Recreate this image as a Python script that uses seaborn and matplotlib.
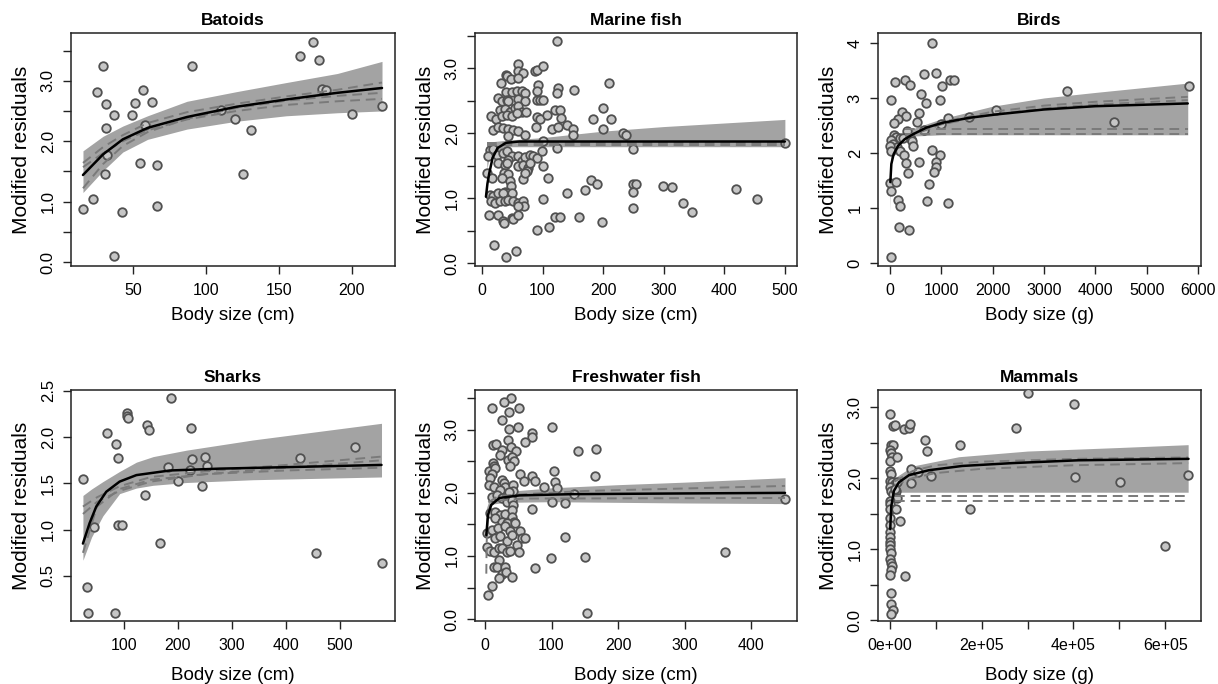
import numpy as np
import pandas as pd
import matplotlib
matplotlib.use("Agg")
import matplotlib.pyplot as plt
import seaborn as sns

# ---- Batoids ----
batoid_x = [15.7, 22.5, 29.4, 25.5, 31.5, 31.5, 36.7, 32.2, 30.8, 36.7, 42.7, 49.1, 51.1, 57.1, 58.0, 55.0,
            63.3, 66.5, 66.7, 90.1, 110.5, 119.8, 125.5, 131.1, 164.5, 173.2, 177.1, 179.6, 182.4, 200, 220.8]
batoid_y = [0.87, 1.04, 3.24, 2.81, 2.61, 2.21, 2.44, 1.77, 1.45, 0.10, 0.83, 2.44, 2.63, 2.84, 2.26, 1.64,
            2.65, 1.61, 0.93, 3.24, 2.51, 2.37, 1.45, 2.18, 3.41, 3.64, 3.35, 2.86, 2.84, 2.45, 2.59]
batoid_band_x = [15.7, 29.4, 43, 60, 87, 121, 155, 190, 220.6]
batoid_band_hi = [1.84, 2.08, 2.25, 2.42, 2.66, 2.82, 2.97, 3.12, 3.32]
batoid_band_lo = [1.15, 1.51, 1.82, 2.03, 2.20, 2.33, 2.42, 2.47, 2.50]
batoid_fit = [1.44, 1.78, 2.03, 2.22, 2.40, 2.57, 2.69, 2.80, 2.88]
batoid_dash1 = [1.64, 1.90, 2.10, 2.30, 2.48, 2.62, 2.74, 2.85, 2.97]
batoid_dash2 = [1.57, 1.80, 2.00, 2.18, 2.36, 2.50, 2.60, 2.66, 2.70]
batoid_dash3 = [1.22, 1.62, 1.92, 2.15, 2.37, 2.55, 2.67, 2.75, 2.80]

# ---- Marine fish ----
marine_x = [124.2, 59.9, 39, 41.8, 58.8, 68.1, 87.4, 90.1, 101, 30.8, 47.3, 59.9, 39.6, 48.9, 57.1, 65.4, 70.9,
            92.9, 90.1, 125.8, 123.1, 152.2, 209.9, 25.8, 32.4, 40.7, 43.4, 59.9, 70.9, 90.1, 95.6, 101,
            29.7, 38, 46.2, 54.4, 59.9, 65.4, 72.5, 14.8, 23.1, 32.4, 40.7, 48.9, 57.1,
            90.1, 95.6, 107.7, 120.3, 128.6, 130.2, 89, 183.5, 200, 213.7,
            18.7, 26.9, 35.2, 43.4, 51.6, 59.9, 114.8, 125.8, 139.6, 150.5, 149.5, 200, 233, 238.5,
            43.4, 70.9, 101, 123.1, 249.5, 13.2, 18.7, 10.4, 24.2, 35.2, 40.7, 48.9, 43.4, 26.9,
            59.9, 65.4, 70.9, 79.1, 84.6, 90.1, 98.4, 101, 38, 40.7, 59.9, 68.1, 76.4, 73.6, 79.1,
            36.8, 43.4, 32.4, 46.2, 7.7, 15.9, 68.1, 70.9, 108.2, 47.8, 38, 43.4,
            13.2, 18.7, 26.9, 35.2, 48.9, 14.8, 21.4, 29.7, 38, 43.4, 51.6, 59.9, 68.1, 69.8, 59.9,
            11.5, 25.8, 35.2, 36.8, 48.9, 51.6, 59.9, 100, 139.6, 169.8, 179.7, 190.7, 249.5, 255,
            249.5, 249.5, 90.7, 110.4, 120.3, 128.6, 159.9, 198.9, 20.3, 39.6, 55.5,
            298.9, 314.3, 332.4, 347.3, 419.8, 454.4, 500]
marine_y = [3.41, 3.06, 2.90, 2.88, 2.96, 2.93, 2.95, 2.97, 3.03, 2.77, 2.83, 2.85, 2.63, 2.63, 2.64, 2.64, 2.62,
            2.74, 2.64, 2.70, 2.62, 2.67, 2.77, 2.54, 2.50, 2.51, 2.49, 2.52, 2.50, 2.51, 2.51, 2.51,
            2.36, 2.37, 2.33, 2.38, 2.42, 2.33, 2.32, 2.26, 2.22, 2.27, 2.28, 2.26, 2.31,
            2.25, 2.21, 2.28, 2.35, 2.35, 2.23, 2.10, 2.22, 2.39, 2.22,
            2.04, 2.10, 2.08, 2.06, 2.05, 2.03, 2.06, 2.09, 2.13, 2.06, 1.97, 2.07, 2.00, 1.97,
            1.95, 1.97, 1.88, 1.77, 1.75, 1.74, 1.75, 1.64, 1.67, 1.69, 1.72, 1.65, 1.59, 1.54,
            1.64, 1.57, 1.63, 1.67, 1.64, 1.62, 1.73, 1.49, 1.51, 1.54, 1.49, 1.51, 1.46, 1.41, 1.54,
            1.38, 1.37, 1.31, 1.26, 1.39, 1.31, 1.29, 1.38, 1.31, 1.19, 1.10, 1.08,
            1.05, 1.03, 1.08, 1.08, 1.08, 0.95, 0.93, 0.95, 0.96, 0.97, 0.95, 0.93, 0.95, 0.87, 0.88,
            0.74, 0.74, 0.64, 0.61, 0.69, 0.68, 0.74, 0.98, 1.07, 1.13, 1.27, 1.21, 1.22, 1.22,
            1.09, 0.85, 0.51, 0.56, 0.71, 0.71, 0.71, 0.63, 0.27, 0.10, 0.19,
            1.19, 1.17, 0.93, 0.78, 1.14, 0.98, 1.84]
marine_band_x = [8, 12, 20, 40, 100, 200, 300, 500]
marine_band_hi = [1.80, 1.84, 1.87, 1.89, 1.93, 2.03, 2.10, 2.21]
marine_band_lo = [1.45, 1.62, 1.72, 1.79, 1.79, 1.79, 1.79, 1.79]
marine_fit_x = [6.6, 9, 12, 17.6, 25.8, 39.6, 61.5, 100, 500]
marine_fit = [1.02, 1.22, 1.38, 1.62, 1.77, 1.85, 1.87, 1.87, 1.87]
marine_dash_x = [8, 500]
marine_dash1 = [1.81, 1.81]
marine_dash2 = [1.84, 1.84]

# ---- Birds ----
bird_x = [824, 662, 902, 91, 298, 383, 1161, 1245, 1018, 13, 610, 707, 966, 233, 305, 156, 71, 571, 519,
          1129, 986, 1537, 2056, 655, 337, 71, 123, 188, 253, 415, 26, 58, 136, 428, 6.5, 26, 188, 266,
          448, 817, 966, 318, 350, 558, 888, 888, 850, 752, 0, 13, 110, 156, 188, 720, 1129, 175, 370, 19,
          3451, 4372, 5818]
bird_y = [3.99, 3.44, 3.45, 3.29, 3.33, 3.23, 3.32, 3.32, 3.22, 2.96, 3.08, 2.90, 2.96, 2.75, 2.67, 2.62, 2.55,
          2.73, 2.56, 2.64, 2.53, 2.65, 2.78, 2.41, 2.40, 2.33, 2.29, 2.28, 2.27, 2.25, 2.23, 2.16, 2.11, 2.22,
          2.13, 2.03, 2.03, 1.96, 2.12, 2.05, 1.96, 1.81, 1.64, 1.84, 1.83, 1.74, 1.65, 1.44, 1.45, 1.30, 1.48,
          1.15, 1.03, 1.13, 1.09, 0.65, 0.60, 0.11, 3.13, 2.56, 3.21]
bird_band_x = [0, 20, 50, 150, 300, 500, 1000, 2000, 3000, 4000, 5800]
bird_band_hi = [1.60, 2.05, 2.18, 2.30, 2.38, 2.46, 2.62, 2.85, 3.00, 3.10, 3.27]
bird_band_lo = [0.93, 1.85, 2.05, 2.22, 2.28, 2.31, 2.33, 2.33, 2.33, 2.33, 2.33]
bird_fit_x = [6.5, 26, 71, 156, 285, 448, 707, 1031, 1550, 2069, 3000, 4000, 5800]
bird_fit = [1.47, 1.80, 1.98, 2.13, 2.25, 2.34, 2.46, 2.55, 2.64, 2.70, 2.79, 2.85, 2.90]
bird_dash_x = [300, 1000, 2000, 3000, 4000, 5800]
bird_dash1 = [2.30, 2.56, 2.75, 2.86, 2.93, 3.02]
bird_dash2 = [2.28, 2.52, 2.70, 2.81, 2.88, 2.96]
bird_dash3 = [2.44, 2.44, 2.44, 2.44, 2.44, 2.44]
bird_dash4 = [2.34, 2.34, 2.34, 2.34, 2.34, 2.34]

# ---- Sharks ----
shark_x = [24, 32, 33.2, 43.7, 69.1, 82.7, 85.8, 89.5, 88.9, 96.3, 106.2, 106.2, 108, 139.6, 142, 145.7,
           167.4, 181.6, 186.6, 200.8, 223.6, 225.5, 221.8, 244, 250.8, 253.9, 425.8, 454.9, 528.4, 577.9]
shark_y = [1.55, 0.385, 0.10, 1.03, 2.05, 0.10, 1.93, 1.77, 1.05, 1.05, 2.26, 2.23, 2.21, 1.37, 2.13, 2.08,
           0.86, 1.68, 2.42, 1.53, 2.10, 1.76, 1.65, 1.47, 1.79, 1.69, 1.77, 0.75, 1.89, 0.64]
shark_band_x = [24, 40, 61, 92, 123, 154, 216, 339, 577]
shark_band_hi = [1.37, 1.44, 1.52, 1.63, 1.73, 1.79, 1.86, 1.97, 2.15]
shark_band_lo = [0.67, 0.92, 1.15, 1.39, 1.45, 1.48, 1.51, 1.54, 1.57]
shark_fit_x = [24, 36.3, 48.7, 67.2, 92, 123, 185, 277, 432, 577]
shark_fit = [0.85, 1.07, 1.25, 1.41, 1.52, 1.59, 1.64, 1.66, 1.68, 1.70]
shark_dash_x = [24, 50, 92, 150, 250, 400, 577]
shark_dash1 = [1.25, 1.35, 1.47, 1.57, 1.63, 1.70, 1.79]
shark_dash2 = [1.17, 1.30, 1.42, 1.52, 1.60, 1.67, 1.75]
shark_dash3 = [0.75, 1.25, 1.44, 1.54, 1.60, 1.64, 1.67]

# ---- Freshwater fish ----
fresh_x = [39.5, 28.5, 10.5, 35.5, 50.5, 25.5, 36.5, 49, 100.5, 70.5, 70.5, 60.5, 34, 11.5, 17,
           25.5, 39.5, 46.5, 23, 34.5, 40.5, 43, 38, 11.5, 13, 140.5, 166.5,
           5.5, 15.5, 10.5, 8, 25.5, 28, 5.5, 13, 30.5, 23, 42, 53, 58, 70.5, 74.5, 103, 104.5, 108.5,
           88.5, 165.5, 42, 35.5, 10.5, 18, 25.5, 33, 40.5, 41.5, 100.5, 120.5, 134.5, 70.5,
           8, 15.5, 23, 30.5, 40.5, 40.5, 43, 15.5, 25.5, 33, 44.5, 3, 10.5, 19.5, 30.5, 38,
           15.5, 23, 33, 40.5, 53, 55.5, 60.5, 3, 8, 13, 20.5, 25.5, 33, 38, 48, 50.5, 120.5,
           13, 20.5, 18, 30.5, 25.5, 31.5, 40.5, 20.5, 75.5, 99.5, 150.5, 10.5, 4.5, 153, 361, 451]
fresh_y = [3.51, 3.44, 3.35, 3.28, 3.34, 3.16, 3.01, 3.05, 3.04, 2.95, 2.89, 2.81, 2.83, 2.76, 2.77,
           2.68, 2.72, 2.66, 2.60, 2.52, 2.57, 2.50, 2.42, 2.48, 2.42, 2.67, 2.70,
           2.35, 2.39, 2.30, 2.23, 2.21, 2.15, 2.13, 2.09, 2.10, 2.05, 2.13, 2.30, 2.19, 2.27, 2.19, 2.34, 2.18, 2.08,
           2.10, 2.26, 2.03, 2.01, 1.94, 1.97, 1.92, 1.86, 1.89, 1.81, 1.86, 1.84, 1.98, 1.74,
           1.68, 1.70, 1.65, 1.66, 1.73, 1.62, 1.54, 1.60, 1.54, 1.52, 1.52, 1.36, 1.41, 1.44, 1.48, 1.40,
           1.28, 1.31, 1.24, 1.33, 1.39, 1.29, 1.29, 1.14, 1.08, 1.06, 1.12, 1.12, 1.07, 1.08, 1.17, 1.07, 1.30,
           0.83, 0.93, 0.83, 0.83, 0.71, 0.74, 0.66, 0.65, 0.81, 0.97, 0.99, 0.52, 0.38, 0.10, 1.07, 1.90]
fresh_band_x = [2, 5, 10, 30, 100, 200, 300, 451]
fresh_band_hi = [1.75, 1.85, 1.95, 2.02, 2.08, 2.13, 2.17, 2.24]
fresh_band_lo = [1.62, 1.74, 1.82, 1.85, 1.86, 1.85, 1.84, 1.83]
fresh_fit_x = [2, 4.5, 9.5, 22, 52, 132, 282, 451]
fresh_fit = [1.33, 1.65, 1.81, 1.92, 1.96, 1.98, 1.99, 2.00]
fresh_dash1_x = [5, 20, 60, 150, 300, 451]
fresh_dash1 = [1.85, 1.95, 1.98, 2.03, 2.07, 2.11]
fresh_dash2_x = [2, 2.5, 4, 8, 20, 60, 451]
fresh_dash2 = [0.72, 1.20, 1.60, 1.80, 1.88, 1.91, 1.92]

# ---- Mammals ----
mammal_x = [725, 6530, 11600, 30470, 41350, 42800, 2900, 6530, 725, 2900, 5080, 725, 15240, 76900, 80500,
            153000, 725, 2900, 46400, 60900, 90000, 0, 5080, 10160, 15240, 46400, 0, 2900, 6530, 12330, 15240,
            0, 0, 725, 13800, 10160, 21000, 0, 0, 0, 725, 0, 0, 725, 2180, 725, 2900, 5080, 2900, 725,
            32650, 1450, 2900, 6530, 2180, 175600, 301000, 401200, 275700, 404100, 500600, 600000, 650000]
mammal_y = [2.90, 2.73, 2.75, 2.69, 2.70, 2.76, 2.46, 2.46, 2.40, 2.35, 2.30, 2.24, 2.29, 2.53, 2.38,
            2.46, 2.10, 2.06, 2.13, 2.08, 2.03, 1.96, 1.94, 1.92, 1.94, 1.93, 1.87, 1.82, 1.77, 1.82, 1.72,
            1.68, 1.63, 1.57, 1.57, 1.85, 1.40, 1.43, 1.34, 1.24, 1.17, 1.10, 1.05, 1.00, 0.95, 0.86, 0.81,
            0.76, 0.71, 0.63, 0.62, 0.38, 0.23, 0.14, 0.09, 1.57, 3.20, 3.04, 2.70, 2.02, 1.94, 1.04, 2.04]
mammal_band_x = [1000, 10000, 50000, 150000, 300000, 500000, 650000]
mammal_band_hi = [1.90, 2.00, 2.17, 2.30, 2.38, 2.43, 2.47]
mammal_band_lo = [1.80, 1.80, 1.80, 1.80, 1.80, 1.80, 1.80]
mammal_fit_x = [725, 1450, 2900, 8700, 19600, 41400, 84900, 157400, 266000, 411000, 650800]
mammal_fit = [1.28, 1.40, 1.60, 1.82, 1.94, 2.04, 2.11, 2.17, 2.21, 2.25, 2.27]
mammal_dash_x = [10000, 50000, 100000, 200000, 400000, 650000]
mammal_dash1 = [1.95, 2.10, 2.18, 2.23, 2.27, 2.29]
mammal_dash2 = [1.90, 2.00, 2.07, 2.13, 2.18, 2.21]
mammal_dash3 = [1.75, 1.75, 1.75, 1.75, 1.75, 1.75]
mammal_dash4 = [1.67, 1.67, 1.67, 1.67, 1.67, 1.67]

sns.set_style("ticks")
plt.rcParams['font.family'] = ['Liberation Sans', 'DejaVu Sans']
plt.rcParams['text.color'] = 'black'
plt.rcParams['axes.labelcolor'] = 'black'
plt.rcParams['xtick.color'] = 'black'
plt.rcParams['ytick.color'] = 'black'

W, H = 1218, 684
fig = plt.figure(figsize=(W / 100, H / 100), dpi=100)


def make_ax(left, right, top, bottom):
    return fig.add_axes([left / W, (H - bottom) / H, (right - left) / W, (bottom - top) / H])


def draw_panel(ax, title, xlabel, px, py, band_x, lo, hi, fit_x, fit_y, dashes,
               xlim, ylim, xticks, xlabels, yticks, ylabels, xpad=7):
    ax.fill_between(band_x, lo, hi, color='#a3a3a3', lw=0, zorder=1)
    pts = pd.DataFrame({'x': px, 'y': py})
    sns.scatterplot(data=pts, x='x', y='y', ax=ax, s=38, color='#c6c6c6',
                    edgecolor='#505050', linewidth=1.3, zorder=3)
    for dx, dy in dashes:
        sns.lineplot(x=dx, y=dy, ax=ax, color='#7a7a7a', lw=1.4, sort=False,
                     estimator=None, zorder=4, dashes=False, linestyle=(0, (5, 3)))
    sns.lineplot(x=fit_x, y=fit_y, ax=ax, color='black', lw=1.8, sort=False,
                 estimator=None, zorder=5)
    ax.set_xlim(*xlim)
    ax.set_ylim(*ylim)
    ax.set_xticks(xticks)
    ax.set_xticklabels(xlabels)
    ax.set_yticks(yticks)
    ax.set_yticklabels(ylabels)
    ax.tick_params(axis='both', length=6, width=1, color='#222222')
    ax.tick_params(axis='x', labelsize=11.5, pad=6)
    ax.tick_params(axis='y', labelsize=12, labelrotation=90, pad=5)
    for lab in ax.get_yticklabels():
        lab.set_va('center')
    for s in ax.spines.values():
        s.set_linewidth(1.1)
        s.set_color('#222222')
    ax.set_title(title, fontsize=12.5, fontweight='bold', pad=6)
    ax.set_xlabel(xlabel, fontsize=13.5, labelpad=xpad)
    ax.set_ylabel('Modified residuals', fontsize=15, labelpad=7)


half = ['0.0', '', '1.0', '', '2.0', '', '3.0', '']

ax1 = make_ax(71, 395, 33, 266)
draw_panel(ax1, 'Batoids', 'Body size (cm)', batoid_x, batoid_y,
           batoid_band_x, batoid_band_lo, batoid_band_hi, batoid_band_x, batoid_fit,
           [(batoid_band_x, batoid_dash1), (batoid_band_x, batoid_dash2), (batoid_band_x, batoid_dash3)],
           (7.5, 229.5), (-0.066, 3.79), [50, 100, 150, 200], ['50', '100', '150', '200'],
           [0, 0.5, 1, 1.5, 2, 2.5, 3, 3.5], half)

ax2 = make_ax(475, 797, 33, 266)
draw_panel(ax2, 'Marine fish', 'Body size (cm)', marine_x, marine_y,
           marine_band_x, marine_band_lo, marine_band_hi, marine_fit_x, marine_fit,
           [(marine_dash_x, marine_dash1), (marine_dash_x, marine_dash2)],
           (-11.5, 520), (-0.046, 3.54), [0, 100, 200, 300, 400, 500],
           ['0', '100', '200', '300', '400', '500'],
           [0, 0.5, 1, 1.5, 2, 2.5, 3, 3.5], half)

ax3 = make_ax(878, 1201, 33, 266)
draw_panel(ax3, 'Birds', 'Body size (g)', bird_x, bird_y,
           bird_band_x, bird_band_lo, bird_band_hi, bird_fit_x, bird_fit,
           [(bird_dash_x, bird_dash1), (bird_dash_x, bird_dash2),
            (bird_dash_x, bird_dash3), (bird_dash_x, bird_dash4)],
           (-234, 6058), (-0.054, 4.18), [0, 1000, 2000, 3000, 4000, 5000, 6000],
           ['0', '1000', '2000', '3000', '4000', '5000', '6000'],
           [0, 1, 2, 3, 4], ['0', '1', '2', '3', '4'])

ax4 = make_ax(71, 395, 390, 621)
draw_panel(ax4, 'Sharks', 'Body size (cm)', shark_x, shark_y,
           shark_band_x, shark_band_lo, shark_band_hi, shark_fit_x, shark_fit,
           [(shark_dash_x, shark_dash1), (shark_dash_x, shark_dash2), (shark_dash_x, shark_dash3)],
           (1.9, 602), (0.013, 2.51), [100, 200, 300, 400, 500],
           ['100', '200', '300', '400', '500'],
           [0.5, 1, 1.5, 2, 2.5], ['0.5', '1.0', '1.5', '2.0', '2.5'], xpad=10)

ax5 = make_ax(475, 797, 390, 621)
draw_panel(ax5, 'Freshwater fish', 'Body size (cm)', fresh_x, fresh_y,
           fresh_band_x, fresh_band_lo, fresh_band_hi, fresh_fit_x, fresh_fit,
           [(fresh_dash1_x, fresh_dash1), (fresh_dash2_x, fresh_dash2)],
           (-15, 469), (-0.03, 3.63), [0, 100, 200, 300, 400],
           ['0', '100', '200', '300', '400'],
           [0, 0.5, 1, 1.5, 2, 2.5, 3, 3.5], half, xpad=10)

ax6 = make_ax(878, 1201, 390, 621)
draw_panel(ax6, 'Mammals', 'Body size (g)', mammal_x, mammal_y,
           mammal_band_x, mammal_band_lo, mammal_band_hi, mammal_fit_x, mammal_fit,
           [(mammal_dash_x, mammal_dash1), (mammal_dash_x, mammal_dash2),
            (mammal_dash_x, mammal_dash3), (mammal_dash_x, mammal_dash4)],
           (-26000, 678000), (-0.014, 3.24),
           [0, 100000, 200000, 300000, 400000, 500000, 600000],
           ['0e+00', '', '2e+05', '', '4e+05', '', '6e+05'],
           [0, 0.5, 1, 1.5, 2, 2.5, 3], ['0.0', '', '1.0', '', '2.0', '', '3.0'], xpad=10)

fig.savefig('out.png', dpi=100)
